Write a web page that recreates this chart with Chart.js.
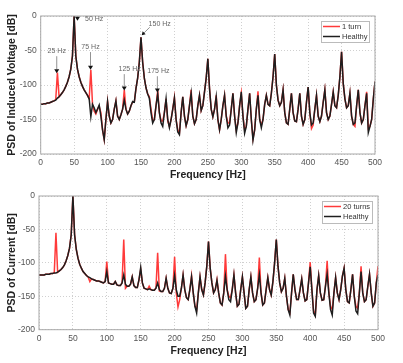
<!DOCTYPE html>
<html>
<head>
<meta charset="utf-8">
<script src="https://cdn.jsdelivr.net/npm/chart.js@4.4.1/dist/chart.umd.min.js"></script>
<style>
body { margin: 0; background: #fff; }
#voltChart { position: absolute; left: 0; top: 0; }
#currChart { position: absolute; left: 0; top: 181px; }
</style>
</head>
<body>
<canvas id="voltChart" width="403" height="181"></canvas>
<canvas id="currChart" width="403" height="182"></canvas>
<script>
// frequency grid [Hz]
var freq = [
  0, 2.5, 5, 7.5, 10, 12.5, 15, 17.5, 20, 22.5,
  25, 27.5, 30, 32.5, 35, 37.5, 40, 42.5, 45, 47.5,
  50, 52.5, 55, 57.5, 60, 62.5, 65, 67.5, 70, 72.5,
  75, 77.5, 80, 82.5, 85, 87.5, 90, 92.5, 95, 97.5,
  100, 102.5, 105, 107.5, 110, 112.5, 115, 117.5, 120, 122.5,
  125, 127.5, 130, 132.5, 135, 137.5, 140, 142.5, 145, 147.5,
  150, 152.5, 155, 157.5, 160, 162.5, 165, 167.5, 170, 172.5,
  175, 177.5, 180, 182.5, 185, 187.5, 190, 192.5, 195, 197.5,
  200, 202.5, 205, 207.5, 210, 212.5, 215, 217.5, 220, 222.5,
  225, 227.5, 230, 232.5, 235, 237.5, 240, 242.5, 245, 247.5,
  250, 252.5, 255, 257.5, 260, 262.5, 265, 267.5, 270, 272.5,
  275, 277.5, 280, 282.5, 285, 287.5, 290, 292.5, 295, 297.5,
  300, 302.5, 305, 307.5, 310, 312.5, 315, 317.5, 320, 322.5,
  325, 327.5, 330, 332.5, 335, 337.5, 340, 342.5, 345, 347.5,
  350, 352.5, 355, 357.5, 360, 362.5, 365, 367.5, 370, 372.5,
  375, 377.5, 380, 382.5, 385, 387.5, 390, 392.5, 395, 397.5,
  400, 402.5, 405, 407.5, 410, 412.5, 415, 417.5, 420, 422.5,
  425, 427.5, 430, 432.5, 435, 437.5, 440, 442.5, 445, 447.5,
  450, 452.5, 455, 457.5, 460, 462.5, 465, 467.5, 470, 472.5,
  475, 477.5, 480, 482.5, 485, 487.5, 490, 492.5, 495, 497.5,
  500
];

// PSD of induced voltage [dB]
var voltHealthy = [
  -128, -128, -127, -127, -126, -126, -125, -124, -123, -122,
  -119, -117, -114, -111, -107, -102, -96, -88, -77, -58,
  0, -58, -77, -88, -96, -102, -107, -111, -115, -120,
  -146, -128, -133, -140, -135, -129, -145, -165, -179, -150,
  -124, -145, -155, -150, -135, -123, -145, -150, -143, -135,
  -122, -135, -142, -138, -130, -124, -125, -105, -90, -67,
  -31, -67, -90, -104, -113, -119, -140, -155, -150, -130,
  -113, -140, -155, -160, -140, -120, -150, -162, -150, -135,
  -119, -150, -168, -172, -140, -117, -145, -159, -150, -130,
  -112, -145, -156, -150, -130, -115, -137, -130, -110, -90,
  -62, -105, -135, -146, -135, -117, -150, -165, -150, -130,
  -115, -145, -162, -158, -135, -112, -145, -169, -155, -130,
  -110, -145, -170, -160, -135, -112, -150, -180, -165, -135,
  -115, -150, -162, -150, -128, -115, -128, -130, -112, -88,
  -55, -100, -122, -130, -125, -107, -140, -155, -157, -135,
  -112, -140, -152, -153, -135, -112, -145, -157, -150, -125,
  -103, -140, -158, -155, -135, -115, -145, -153, -145, -125,
  -107, -140, -150, -145, -128, -110, -130, -133, -115, -88,
  -52, -98, -120, -133, -130, -112, -145, -157, -155, -130,
  -107, -140, -155, -150, -130, -112, -169, -160, -150, -120,
  -95
];
var voltTurn1 = [
  -128, -128, -127, -127, -126, -126, -125, -124, -123, -121,
  -82, -117, -114, -111, -107, -102, -96, -88, -77, -58,
  0, -58, -77, -88, -96, -102, -107, -111, -115, -120,
  -78, -128, -138, -142, -135, -131, -140, -165, -179, -150,
  -124, -145, -155, -150, -135, -123, -145, -150, -143, -135,
  -107, -135, -142, -138, -130, -125, -125, -105, -90, -67,
  -31, -67, -90, -104, -113, -117, -135, -152, -150, -130,
  -108, -140, -152, -152, -140, -120, -152, -160, -150, -135,
  -118, -150, -165, -170, -140, -117, -145, -159, -150, -130,
  -107, -145, -156, -150, -130, -115, -137, -130, -110, -90,
  -62, -105, -135, -146, -135, -115, -150, -165, -150, -130,
  -115, -145, -155, -155, -135, -112, -145, -165, -155, -130,
  -112, -145, -165, -160, -135, -112, -150, -178, -165, -135,
  -109, -150, -158, -150, -128, -115, -128, -130, -112, -88,
  -55, -100, -122, -130, -125, -107, -140, -155, -157, -135,
  -112, -140, -152, -153, -135, -112, -145, -157, -150, -125,
  -103, -140, -163, -158, -135, -115, -145, -153, -145, -125,
  -107, -140, -150, -145, -128, -110, -130, -133, -115, -88,
  -52, -98, -120, -133, -130, -112, -145, -157, -160, -130,
  -107, -140, -155, -150, -130, -110, -163, -160, -150, -120,
  -95
];

// PSD of current [dB]
var currHealthy = [
  -118, -118, -118, -118, -117, -117, -117, -116, -116, -115,
  -115, -114, -112, -110, -107, -103, -97, -89, -78, -58,
  0, -58, -80, -93, -102, -108, -113, -116, -119, -121,
  -122, -124, -125, -126, -127, -127, -128, -129, -130, -128,
  -113, -130, -131, -132, -132, -128, -133, -134, -134, -130,
  -118, -132, -135, -135, -132, -121, -134, -137, -137, -125,
  -107, -130, -138, -139, -140, -139, -140, -141, -141, -138,
  -130, -140, -143, -143, -138, -123, -138, -145, -146, -138,
  -119, -140, -150, -150, -138, -118, -140, -152, -155, -140,
  -121, -145, -165, -175, -145, -121, -140, -148, -130, -105,
  -68, -108, -130, -145, -140, -126, -145, -160, -163, -145,
  -120, -140, -155, -158, -140, -118, -145, -165, -162, -140,
  -121, -145, -168, -165, -140, -121, -145, -158, -155, -138,
  -118, -145, -163, -160, -140, -122, -140, -148, -128, -100,
  -65, -105, -130, -143, -138, -123, -150, -170, -178, -145,
  -117, -140, -155, -155, -140, -124, -145, -157, -155, -130,
  -106, -140, -175, -180, -140, -119, -145, -156, -155, -135,
  -117, -145, -170, -178, -145, -122, -145, -155, -140, -120,
  -108, -140, -158, -160, -140, -117, -150, -172, -176, -145,
  -113, -145, -158, -155, -135, -117, -145, -165, -160, -130,
  -118
];
var currTurn20 = [
  -118, -118, -118, -118, -117, -117, -117, -116, -116, -115,
  -55, -114, -112, -110, -107, -103, -97, -89, -78, -58,
  0, -58, -80, -93, -102, -108, -113, -116, -119, -121,
  -128, -124, -125, -126, -127, -127, -128, -129, -130, -128,
  -98, -130, -131, -132, -132, -128, -133, -134, -134, -130,
  -65, -138, -135, -135, -132, -121, -134, -137, -137, -125,
  -110, -130, -138, -139, -140, -135, -140, -141, -141, -138,
  -85, -142, -143, -143, -138, -123, -138, -145, -146, -138,
  -91, -145, -166, -155, -138, -118, -140, -152, -155, -140,
  -119, -145, -165, -170, -145, -121, -140, -148, -130, -105,
  -68, -108, -130, -145, -140, -125, -145, -160, -163, -145,
  -87, -140, -150, -152, -140, -118, -145, -165, -162, -140,
  -121, -145, -168, -165, -140, -121, -145, -158, -155, -138,
  -92, -145, -163, -160, -140, -122, -140, -148, -128, -100,
  -65, -105, -130, -143, -138, -123, -150, -170, -175, -145,
  -117, -140, -155, -155, -140, -124, -145, -157, -155, -130,
  -99, -140, -172, -178, -140, -119, -145, -156, -155, -135,
  -97, -145, -165, -170, -145, -122, -145, -155, -140, -120,
  -108, -140, -158, -160, -140, -117, -150, -165, -168, -145,
  -105, -145, -158, -155, -135, -117, -145, -165, -160, -130,
  -105
];

var freqTicks = [0, 50, 100, 150, 200, 250, 300, 350, 400, 450, 500];
var dbTicks = [-200, -150, -100, -50, 0];

// peak markers on the voltage plot
var markText = ['25 Hz', '50 Hz', '75 Hz', '125 Hz', '150 Hz', '175 Hz'];
var markHz = [24, 55, 74.5, 125, 151, 174.5];
var markDb = [-80, -4, -75, -105, -28, -108];
var textHz = [24, 80, 74.5, 133, 178, 176];
var textDb = [-51, -5, -45, -77, -12, -80];
var markKind = ['stem', 'side', 'stem', 'stem', 'arrow', 'stem'];

var RED = '#ff3a3a';
var BLACK = '#1e1e1e';

function pts(ys) {
  return freq.map(function (f, i) { return { x: f, y: ys[i] }; });
}

var framePlugin = {
  id: 'frame',
  afterDatasetsDraw: function (chart) {
    var a = chart.chartArea, c = chart.ctx;
    c.save();
    c.strokeStyle = '#a8a8a8';
    c.lineWidth = 1;
    c.strokeRect(a.left, a.top, a.right - a.left, a.bottom - a.top);
    c.restore();
  }
};

var boxLegend = {
  id: 'boxLegend',
  afterDraw: function (chart, args, opts) {
    var c = chart.ctx;
    c.save();
    c.fillStyle = '#fff';
    c.fillRect(opts.x, opts.y, opts.w, opts.h);
    c.strokeStyle = '#bbb';
    c.lineWidth = 1;
    c.strokeRect(opts.x + 0.5, opts.y + 0.5, opts.w, opts.h);
    c.font = '7.5px "Liberation Sans", Arial, sans-serif';
    c.textBaseline = 'middle';
    chart.data.datasets.forEach(function (ds, i) {
      var yy = opts.y + 5.5 + i * 10;
      c.strokeStyle = ds.borderColor;
      c.lineWidth = 1.5;
      c.beginPath();
      c.moveTo(opts.x + 2, yy);
      c.lineTo(opts.x + 19, yy);
      c.stroke();
      c.fillStyle = '#333';
      c.fillText(ds.label, opts.x + 21, yy);
    });
    c.restore();
  }
};

var markPlugin = {
  id: 'marks',
  afterDatasetsDraw: function (chart) {
    var xs = chart.scales.x, ys = chart.scales.y, c = chart.ctx;
    c.save();
    c.font = '7px "Liberation Sans", Arial, sans-serif';
    c.textAlign = 'center';
    c.textBaseline = 'middle';
    markText.forEach(function (t, i) {
      var px = xs.getPixelForValue(markHz[i]), py = ys.getPixelForValue(markDb[i]);
      var tx = xs.getPixelForValue(textHz[i]), ty = ys.getPixelForValue(textDb[i]);
      c.fillStyle = '#666';
      c.fillText(t, tx, ty);
      c.strokeStyle = '#777';
      c.lineWidth = 0.8;
      c.fillStyle = '#111';
      if (markKind[i] === 'arrow') {
        c.beginPath();
        c.moveTo(tx - 10, ty + 3);
        c.lineTo(px + 2, py - 2);
        c.stroke();
        c.beginPath();
        c.moveTo(px, py);
        c.lineTo(px + 4, py - 1);
        c.lineTo(px + 1, py - 4);
        c.closePath();
        c.fill();
        return;
      }
      if (markKind[i] === 'stem') {
        c.beginPath();
        c.moveTo(px, ty + 5);
        c.lineTo(px, py - 2);
        c.stroke();
      }
      c.beginPath();
      c.moveTo(px - 2.5, py - 2);
      c.lineTo(px + 2.5, py - 2);
      c.lineTo(px, py + 2);
      c.closePath();
      c.fill();
    });
    c.restore();
  }
};

function makeChart(id, yTitle, healthy, fault, faultLabel, geo, legendPos, extra) {
  var plugins = [framePlugin, boxLegend];
  if (extra) plugins.push(extra);
  return new Chart(document.getElementById(id).getContext('2d'), {
    type: 'line',
    data: {
      datasets: [
        { label: faultLabel, data: pts(fault), borderColor: RED, borderWidth: 1.5, pointRadius: 0, order: 1 },
        { label: 'Healthy', data: pts(healthy), borderColor: BLACK, borderWidth: 1.5, pointRadius: 0, order: 0 }
      ]
    },
    options: {
      responsive: false,
      animation: false,
      layout: { padding: { top: geo.top, right: geo.right, left: 0, bottom: 0 } },
      plugins: {
        legend: { display: false },
        tooltip: { enabled: false },
        boxLegend: legendPos
      },
      scales: {
        x: {
          type: 'linear', min: 0, max: 500,
          afterBuildTicks: function (s) { s.ticks = freqTicks.map(function (v) { return { value: v }; }); },
          afterFit: function (s) { s.height = geo.xh; },
          grid: { color: '#d0d0d0', drawTicks: false },
          border: { display: false, dash: [1, 2] },
          ticks: { padding: 4, color: '#555', font: { size: 8.5, family: '"Liberation Sans", Arial' }, maxRotation: 0 },
          title: { display: true, text: 'Frequency [Hz]', color: '#222', padding: { top: 0, bottom: geo.tpad },
            font: { size: 10.5, weight: 'bold', family: '"Liberation Sans", Arial' } }
        },
        y: {
          min: -200, max: 0,
          afterBuildTicks: function (s) { s.ticks = dbTicks.map(function (v) { return { value: v }; }); },
          afterFit: function (s) { s.width = geo.yw; },
          grid: { color: '#d0d0d0', drawTicks: false },
          border: { display: false, dash: [1, 2] },
          ticks: { padding: 4, color: '#555', font: { size: 8.5, family: '"Liberation Sans", Arial' } },
          title: { display: true, text: yTitle, color: '#222', padding: { top: 6, bottom: 0 },
            font: { size: 10.5, weight: 'bold', family: '"Liberation Sans", Arial' } }
        }
      }
    },
    plugins: plugins
  });
}

makeChart('voltChart', 'PSD of Induced Voltage [dB]', voltHealthy, voltTurn1, '1 turn',
  { top: 16, right: 28, xh: 27, yw: 40.7, tpad: 0 },
  { x: 321, y: 21, w: 48, h: 21 }, markPlugin);

makeChart('currChart', 'PSD of Current [dB]', currHealthy, currTurn20, '20 turns',
  { top: 15, right: 25, xh: 33.3, yw: 39, tpad: 5.5 },
  { x: 322, y: 20, w: 50, h: 22 }, null);
</script>
</body>
</html>
